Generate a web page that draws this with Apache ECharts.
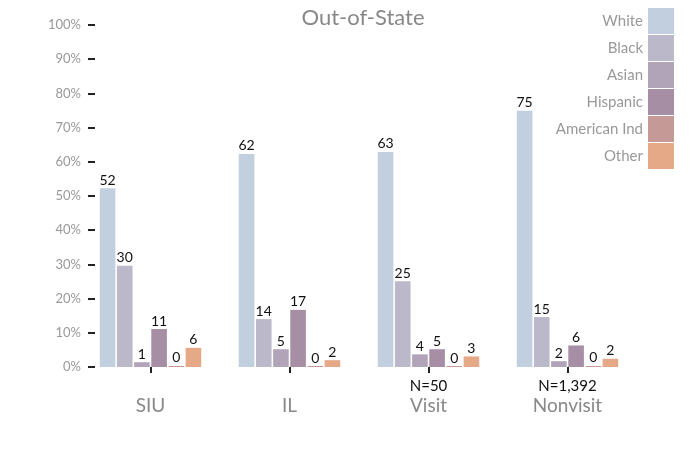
<!DOCTYPE html>
<html>
<head>
<meta charset="utf-8">
<script src="https://cdn.jsdelivr.net/npm/echarts@6/dist/echarts.min.js"></script>
<style>html,body{margin:0;padding:0;background:#fff}#c{width:700px;height:450px}</style>
</head>
<body>
<div id="c"></div>
<script>
var categories = ['SIU', 'IL', 'Visit', 'Nonvisit'];
var sampleNotes = ['', '', 'N=50', 'N=1,392'];
var seriesNames = ['White', 'Black', 'Asian', 'Hispanic', 'American Ind', 'Other'];
var white    = [52.3, 62.3, 62.9, 74.9];
var black    = [29.6, 14.0, 25.1, 14.6];
var asian    = [1.4, 5.2, 3.7, 1.7];
var hispanic = [11.1, 16.7, 5.2, 6.3];
var amInd    = [0.3, 0.2, 0.2, 0.3];
var other    = [5.6, 2.0, 3.1, 2.4];
var yTicks = [0, 10, 20, 30, 40, 50, 60, 70, 80, 90, 100];
var colors = ['#c2cfdf', '#bab8c9', '#b2a4b8', '#a68ea5', '#c59a96', '#e6a987'];
var allValues = [white, black, asian, hispanic, amInd, other];

var FONT = 'Lato, "Open Sans", sans-serif';
var chart = echarts.init(document.getElementById('c'));
var series = seriesNames.map(function (name, i) {
  return {
    name: name,
    type: 'bar',
    data: allValues[i],
    barGap: '10%',
    barCategoryGap: '27%',
    barMinHeight: 1,
    itemStyle: { color: colors[i] },
    label: {
      show: true, position: 'top', distance: 1,
      color: '#111', fontFamily: FONT, fontSize: 14,
      formatter: function (p) { return Math.round(p.value); }
    }
  };
});
chart.setOption({
  animation: false,
  title: {
    text: 'Out-of-State', left: 358, top: 2, textAlign: 'center',
    textStyle: { color: '#888', fontFamily: FONT, fontSize: 22, fontWeight: 'normal' }
  },
  legend: {
    orient: 'vertical', right: 26, top: 8, align: 'right', padding: 0,
    itemWidth: 26, itemHeight: 26, itemGap: 1, icon: 'rect',
    textStyle: { color: '#999', fontFamily: FONT, fontSize: 15 },
    itemStyle: { borderWidth: 0 },
    data: seriesNames
  },
  grid: { left: 81, right: 63, top: 25, bottom: 83, containLabel: false },
  xAxis: {
    type: 'category', data: categories,
    axisLine: { show: false },
    axisTick: { show: true, alignWithLabel: true, length: 6, lineStyle: { color: '#222', width: 2 } },
    axisLabel: {
      margin: 10, interval: 0,
      formatter: function (v, idx) {
        return '{n|' + (sampleNotes[idx] || ' ') + '}\n{c|' + v + '}';
      },
      rich: {
        n: { color: '#111', fontFamily: FONT, fontSize: 15, lineHeight: 18 },
        c: { color: '#888', fontFamily: FONT, fontSize: 19, lineHeight: 22 }
      }
    }
  },
  yAxis: {
    type: 'value', min: 0, max: 100, interval: 10, offset: -14,
    splitLine: { show: false },
    axisLine: { show: false },
    axisTick: { show: true, length: 7, lineStyle: { color: '#222', width: 2 } },
    axisLabel: {
      margin: 14, color: '#999', fontFamily: FONT, fontSize: 13,
      formatter: function (v) { return yTicks.indexOf(v) >= 0 ? v + '%' : ''; }
    }
  },
  series: series
});
</script>
</body>
</html>
